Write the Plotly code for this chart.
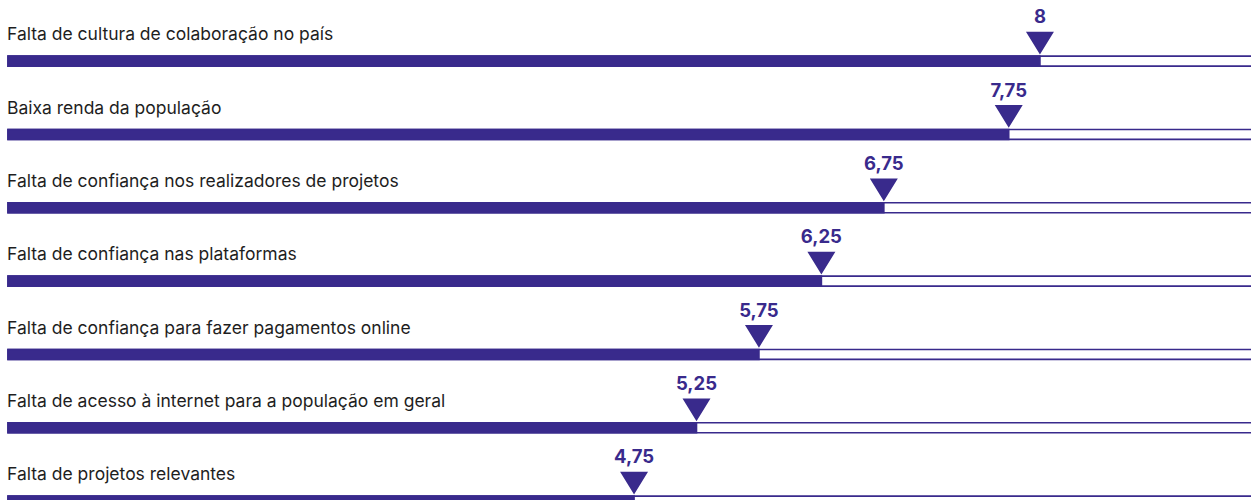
import plotly.graph_objects as go

# Survey items and their average scores
categories = [
    "Falta de cultura de colaboração no país",
    "Baixa renda da população",
    "Falta de confiança nos realizadores de projetos",
    "Falta de confiança nas plataformas",
    "Falta de confiança para fazer pagamentos online",
    "Falta de acesso à internet para a população em geral",
    "Falta de projetos relevantes",
]
scores = [8, 7.75, 6.75, 6.25, 5.75, 5.25, 4.75]
score_labels = ["8", "7,75", "6,75", "6,25", "5,75", "5,25", "4,75"]

PURPLE = "#392A8C"
TEXT = "#1E1E1E"

# axis geometry (data units)
X_MIN, X_MAX = -0.263, 9.69
X_END = 11.0          # outline track runs past the right edge
BAR_W = 0.136
TRI_HALF_W = 0.112
TRI_TOP = -0.40
TRI_TIP = -0.09
LABEL_Y = -0.37
VALUE_Y = -0.58

rows = list(range(len(categories)))
fig = go.Figure()

# empty track with outline
fig.add_trace(go.Bar(
    y=rows, x=[X_END - X_MIN] * len(rows), base=[X_MIN] * len(rows),
    orientation="h", width=BAR_W,
    marker=dict(color="white", line=dict(color=PURPLE, width=1.6)),
    hoverinfo="skip", showlegend=False,
))
# filled part up to the score
fig.add_trace(go.Bar(
    y=rows, x=[s - X_MIN for s in scores], base=[X_MIN] * len(rows),
    orientation="h", width=BAR_W,
    marker=dict(color=PURPLE, line=dict(color=PURPLE, width=1.6)),
    hoverinfo="skip", showlegend=False,
))

# downward triangle pointers at each score
tx, ty = [], []
for r, s in zip(rows, scores):
    tx += [s - TRI_HALF_W, s + TRI_HALF_W, s, s - TRI_HALF_W, None]
    ty += [r + TRI_TOP, r + TRI_TOP, r + TRI_TIP, r + TRI_TOP, None]
fig.add_trace(go.Scatter(
    x=tx, y=ty, mode="lines", fill="toself", fillcolor=PURPLE,
    line=dict(color=PURPLE, width=0), hoverinfo="skip", showlegend=False,
))

# value labels above triangles
fig.add_trace(go.Scatter(
    x=scores, y=[r + VALUE_Y for r in rows], mode="text", text=score_labels,
    textposition="middle center",
    textfont=dict(family="Inter", size=18.5, color=PURPLE, weight="bold"),
    hoverinfo="skip", showlegend=False, cliponaxis=False,
))

# category labels
for r, c in zip(rows, categories):
    fig.add_annotation(
        x=X_MIN, y=r + LABEL_Y, text=c, showarrow=False,
        xanchor="left", yanchor="middle", xshift=-3,
        font=dict(family="Inter", size=17.5, color=TEXT),
    )

fig.update_layout(
    width=1251, height=500,
    margin=dict(l=0, r=0, t=0, b=0),
    paper_bgcolor="white", plot_bgcolor="white",
    barmode="overlay",
    xaxis=dict(range=[X_MIN - 8 / 124.9, X_MAX], visible=False, fixedrange=True),
    yaxis=dict(range=[5.985 + 0.0, -0.833], visible=False, fixedrange=True),
)

fig.write_html("out.html")
